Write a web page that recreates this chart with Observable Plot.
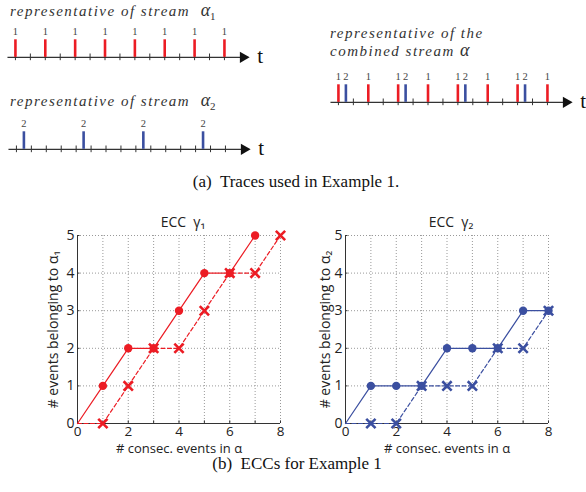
<!DOCTYPE html>
<html><head><meta charset="utf-8">
<script src="https://cdn.jsdelivr.net/npm/d3@7"></script>
<script src="https://cdn.jsdelivr.net/npm/@observablehq/plot@0.6"></script>
<style>
body{margin:0;background:#fff;}
#fig{position:relative;width:586px;height:492px;overflow:hidden;background:#fff;}
#fig > *{position:absolute;}
.ttl{font-family:"Liberation Serif",serif;font-style:italic;font-size:15px;letter-spacing:1.5px;color:#333;white-space:nowrap;line-height:17px;}
.ttl .a{font-size:18px;letter-spacing:0;}
.ttl sub{font-size:11px;font-style:normal;vertical-align:-4px;}
.cap{font-family:"Liberation Serif",serif;font-size:17px;color:#111;white-space:nowrap;text-align:center;width:586px;line-height:20px;}
</style></head><body><div id="fig"></div>
<script>
const RED = "#ec1c24", BLUE = "#3b4fa0";

// ---- traces (time units = tick positions) ----
const tickTimes = [1,2,3,4,5,6,7,8,9,10,11,12,13,14,15];
const stream1Times = [1,3,5,7,9,11,13,15];
const stream2Times = [1.5,5.5,9.5,13.5];
const stream1Label = "1";
const stream2Label = "2";

// ---- ECC curves ----
const eccX = [0,1,2,3,4,5,6,7,8];
const gamma1Upper = [0,1,2,2,3,4,4,5];
const gamma1Lower = [0,0,1,2,2,3,4,4,5];
const gamma2Upper = [0,1,1,1,2,2,2,3,3];
const gamma2Lower = [0,0,0,1,1,1,2,2,3];
const xTickLabels = [0,2,4,6,8];
const yTickLabels = [0,1,2,3,4,5];
const gridX = [1,2,3,4,5,6,7,8];
const gridY = [1,2,3,4,5];

const fig = document.getElementById("fig");
function place(el, left, top){ el.style.left = left+"px"; el.style.top = top+"px"; fig.appendChild(el); return el; }
function html(cls, inner, left, top){ const d = document.createElement("div"); d.className = cls; d.innerHTML = inner; return place(d, left, top); }

const SP = 14.93;
function tracePlot(events, W){
  const H = 50;
  return Plot.plot({
    width: W, height: H, margin: 0,
    style: {background: "none"},
    x: {domain: [0, W / SP], range: [0, W], axis: null},
    y: {domain: [-0.75, 2.1], range: [H, 0], axis: null},
    color: {type: "identity"},
    marks: [
      Plot.ruleY([0], {x1: 0.5, x2: 16.1, stroke: "#333", strokeWidth: 1.2}),
      Plot.dot([16.25], {x: d => d, y: 0, symbol: "triangle", fill: "#111", rotate: 90, r: 4.2}),
      Plot.ruleX(tickTimes, {x: d => d, y1: -0.19, y2: 0.19, stroke: "#333", strokeWidth: 1}),
      Plot.ruleX(events, {x: "t", y1: 0, y2: 1, stroke: "color", strokeWidth: 2.6}),
      Plot.text(events, {x: "t", y: 1.47, text: "label", fill: "#444", fontSize: 10.5, fontFamily: "Liberation Serif"}),
      Plot.text(["t"], {x: 17.4, y: 0, text: d => d, fill: "#111", fontSize: 21, fontFamily: "Liberation Serif", dy: -1})
    ]
  });
}
const ev1 = stream1Times.map(t => ({t, label: stream1Label, color: RED}));
const ev2 = stream2Times.map(t => ({t, label: stream2Label, color: BLUE}));

place(tracePlot(ev1, 282), 0, 20);
place(tracePlot(ev2, 282), 1, 112);
place(tracePlot(ev1.concat(ev2), 264), 322.6, 65);

function eccPlot(upper, lower, color, title, ylabel, ylabDx){
  const up = upper.map((y, i) => ({x: eccX[i], y}));
  const lo = lower.map((y, i) => ({x: eccX[i], y}));
  const font = "Open Sans";
  return Plot.plot({
    width: 290, height: 258, marginLeft: 77, marginRight: 10, marginTop: 30, marginBottom: 40,
    x: {domain: [0, 8]}, y: {domain: [0, 5]},
    style: {fontFamily: font, background: "none"},
    marks: [
      Plot.ruleX(gridX, {stroke: "#999", strokeDasharray: "1,2"}),
      Plot.ruleY(gridY, {stroke: "#999", strokeDasharray: "1,2"}),
      Plot.ruleX(gridX, {x: d => d, y1: 0, y2: 0.07, stroke: "#333"}),
      Plot.ruleY(gridY, {y: d => d, x1: 0, x2: 0.1, stroke: "#333"}),
      Plot.ruleX([0], {stroke: "#333", strokeWidth: 1}),
      Plot.ruleY([0], {stroke: "#333", strokeWidth: 1}),
      Plot.axisX({ticks: xTickLabels, tickFormat: d3.format("d"), tickSize: 0, tickPadding: 3, fontSize: 13.5, label: null, fill: "#222"}),
      Plot.axisY({ticks: yTickLabels, tickFormat: d3.format("d"), tickSize: 0, tickPadding: 3, fontSize: 14, label: null, fill: "#222"}),
      Plot.line(lo, {x: "x", y: "y", stroke: color, strokeWidth: 1.2, strokeDasharray: "4,2.5"}),
      Plot.line(up, {x: "x", y: "y", stroke: color, strokeWidth: 1.2}),
      Plot.dot(lo.filter(d => d.x > 0), {x: "x", y: "y", symbol: "times", stroke: color, strokeWidth: 2.6, r: 4.3}),
      Plot.dot(up.filter(d => d.x > 0), {x: "x", y: "y", fill: color, r: 4.2}),
      Plot.text([title], {frameAnchor: "top", lineAnchor: "middle", textAnchor: "middle", text: d => d, dy: -13, dx: 4, fontSize: 14, fill: "#222"}),
      Plot.text(["# consec. events in α"], {frameAnchor: "bottom", lineAnchor: "middle", textAnchor: "middle", text: d => d, dy: 25, fontSize: 13, fill: "#222"}),
      Plot.text([ylabel], {frameAnchor: "left", lineAnchor: "middle", textAnchor: "middle", text: d => d, rotate: -90, dx: ylabDx, fontSize: 14, fill: "#222"})
    ]
  });
}
place(eccPlot(gamma1Upper, gamma1Lower, RED, "ECC  γ₁", "# events belonging to α₁", -24), 0, 205);
place(eccPlot(gamma2Upper, gamma2Lower, BLUE, "ECC  γ₂", "# events belonging to α₂", -20), 268, 205);

html("ttl", 'representative of stream&nbsp; <span class="a">α<sub>1</sub></span>', 10, 2);
html("ttl", 'representative of stream&nbsp; <span class="a">α<sub>2</sub></span>', 10, 92);
html("ttl", 'representative of the<br>combined stream <span class="a">α</span>', 330, 25);
html("cap", '(a)&nbsp; Traces used in Example 1.', 3, 172);
html("cap", '(b)&nbsp; ECCs for Example 1', 4, 454);
</script>
</body></html>
